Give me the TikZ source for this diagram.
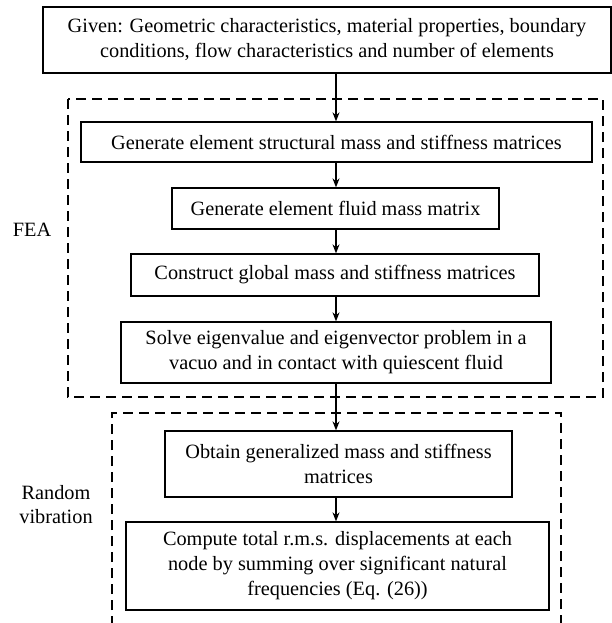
\documentclass[tikz,border=0pt]{standalone}
\usepackage{fontspec}
\setmainfont{Liberation Serif}
\usetikzlibrary{arrows.meta}
\begin{document}
\begin{tikzpicture}[x=1pt,y=-1pt,
  box/.style={draw, line width=1.3pt, rectangle, inner sep=0pt, align=center,
    font=\fontsize{20.3}{25}\selectfont},
  grp/.style={draw, line width=1.3pt, dash pattern=on 10pt off 6pt},
  lbl/.style={align=center, inner sep=0pt, font=\fontsize{20.3}{24}\selectfont},
  arr/.style={line width=1.3pt, -{Stealth[length=9pt,width=7pt]}}]
\useasboundingbox (0,0) rectangle (612,623);
\node[box, minimum width=568pt, minimum height=66pt] (top) at (327,40)
  {Given: Geometric characteristics, material properties, boundary\\conditions, flow characteristics and number of elements};
\node[box, minimum width=511pt, minimum height=40pt] (b1) at (336.5,142)
  {Generate element structural mass and stiffness matrices};
\node[box, minimum width=327pt, minimum height=41pt] (b2) at (335.5,208.5)
  {Generate element fluid mass matrix};
\node[box, minimum width=408pt, minimum height=42pt] (b3) at (335,275)
  {Construct global mass and stiffness matrices};
\node[box, minimum width=430pt, minimum height=61pt] (b4) at (336,352.5)
  {Solve eigenvalue and eigenvector problem in a\\vacuo and in contact with quiescent fluid};
\node[box, minimum width=347pt, minimum height=66pt] (b5) at (338.5,464)
  {Obtain generalized mass and stiffness\\matrices};
\node[box, minimum width=423pt, minimum height=88pt] (b6) at (337.5,566)
  {Compute total r.m.s. displacements at each\\node by summing over significant natural\\frequencies (Eq. (26))};
\coordinate (fea1) at (68,99);
\coordinate (fea2) at (603,397);
\draw[grp] (fea1) rectangle (fea2);
\coordinate (rv1) at (112,626);
\coordinate (rv2) at (112,413);
\coordinate (rv3) at (561,413);
\coordinate (rv4) at (561,626);
\draw[grp] (rv1) -- (rv2) -- (rv3) -- (rv4);
\node[lbl] (fea) at (32,230) {FEA};
\node[lbl] (rvl) at (56,505) {Random\\vibration};
\coordinate (ax) at (336,0);
\draw[arr] (top.south -| ax) -- (b1.north -| ax);
\draw[arr] (b1.south -| ax) -- (b2.north -| ax);
\draw[arr] (b2.south -| ax) -- (b3.north -| ax);
\draw[arr] (b3.south -| ax) -- (b4.north -| ax);
\draw[arr] (b4.south -| ax) -- (b5.north -| ax);
\draw[arr] (b5.south -| ax) -- (b6.north -| ax);
\end{tikzpicture}
\end{document}
